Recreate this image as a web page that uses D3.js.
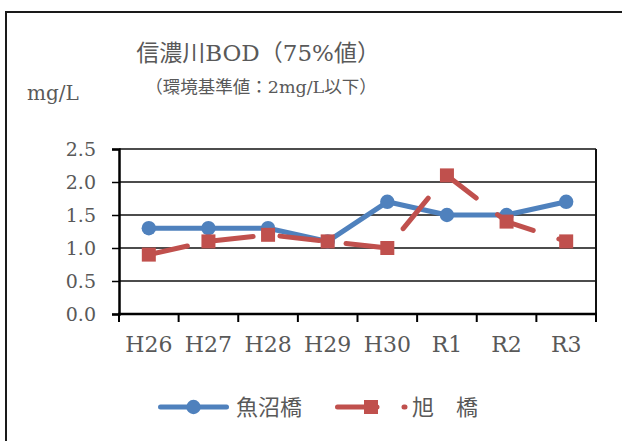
<!DOCTYPE html>
<html>
<head>
<meta charset="utf-8">
<script src="https://cdn.jsdelivr.net/npm/d3@7"></script>
<style>
  body { margin: 0; background: #fff; }
  svg { display: block; }
</style>
</head>
<body>
<div id="chart"></div>
<script>
/* 信濃川BOD line chart */

const years = ["H26", "H27", "H28", "H29", "H30", "R1", "R2", "R3"];
const uonuma = [1.3, 1.3, 1.3, 1.1, 1.7, 1.5, 1.5, 1.7];   // 魚沼橋
const asahi = [0.9, 1.1, 1.2, 1.1, 1.0, 2.1, 1.4, 1.1];    // 旭橋
const yTicks = [0, 0.5, 1.0, 1.5, 2.0, 2.5];
const seriesNames = ["魚沼橋", "旭　橋"];

const width = 622,
      height = 441,
      margin = ({ top: 149, right: 26, bottom: 127, left: 119 });

const grey = "#595959",
      blue = "#4f81bd",
      red = "#c0504d",
      serif = "'DejaVu Serif', serif",
      cjk = "'Noto Sans CJK JP', sans-serif";

let svg = d3.select("#chart")
    .append("svg")
    .attr("width", width)
    .attr("height", height);

// outer chart frame (runs off right and bottom)
svg.append("rect")
    .attr("x", 6)
    .attr("y", 12)
    .attr("width", 700)
    .attr("height", 500)
    .attr("fill", "none")
    .attr("stroke", "#1a1a1a")
    .attr("stroke-width", 2);

let x = d3.scaleBand()
    .domain(years)
    .range([margin.left, width - margin.right]);

let y = d3.scaleLinear()
    .domain([0, 2.5])
    .range([height - margin.bottom, margin.top]);

// horizontal grid lines
svg.append("g")
    .selectAll("line")
    .data(yTicks.slice(1))
    .join("line")
    .attr("x1", margin.left)
    .attr("x2", width - margin.right)
    .attr("y1", d => y(d))
    .attr("y2", d => y(d))
    .attr("stroke", "#111")
    .attr("stroke-width", 1.4);

// right border of plot
svg.append("line")
    .attr("x1", width - margin.right)
    .attr("x2", width - margin.right)
    .attr("y1", y(2.5))
    .attr("y2", y(0))
    .attr("stroke", "#111")
    .attr("stroke-width", 2);

// y axis
let yAxis = svg.append("g")
    .attr("transform", `translate(${margin.left},0)`)
    .call(d3.axisLeft(y).tickValues(yTicks).tickFormat(d3.format(".1f")).tickSize(7).tickPadding(16));
yAxis.select(".domain").attr("stroke", "#000").attr("stroke-width", 2.5);
yAxis.selectAll(".tick line").attr("stroke", "#000").attr("stroke-width", 1.5);
yAxis.selectAll("text")
    .attr("fill", grey)
    .style("font-family", serif)
    .style("font-size", "19px");

// x axis, ticks at band edges
let edges = years.map(d => x(d)).concat([x.range()[1]]);
let xAxis = svg.append("g")
    .attr("transform", `translate(0,${y(0)})`);
xAxis.append("line")
    .attr("x1", margin.left - 1)
    .attr("x2", width - margin.right + 1)
    .attr("stroke", "#000")
    .attr("stroke-width", 2.5);
xAxis.selectAll(".xt")
    .data(edges)
    .join("line")
    .attr("class", "xt")
    .attr("x1", d => d)
    .attr("x2", d => d)
    .attr("y1", 0)
    .attr("y2", 8)
    .attr("stroke", "#000")
    .attr("stroke-width", 2);
xAxis.selectAll("text")
    .data(years)
    .join("text")
    .attr("x", d => x(d) + x.bandwidth() / 2)
    .attr("y", 38)
    .attr("text-anchor", "middle")
    .attr("fill", grey)
    .style("font-family", serif)
    .style("font-size", "22px")
    .text(d => d);

let line = d3.line()
    .x((d, i) => x(years[i]) + x.bandwidth() / 2)
    .y(d => y(d));

// 魚沼橋
svg.append("path")
    .datum(uonuma)
    .attr("d", line)
    .attr("fill", "none")
    .attr("stroke", blue)
    .attr("stroke-width", 5)
    .attr("stroke-linejoin", "round")
    .attr("stroke-linecap", "round");

svg.append("g")
    .selectAll("circle")
    .data(uonuma)
    .join("circle")
    .attr("cx", (d, i) => x(years[i]) + x.bandwidth() / 2)
    .attr("cy", d => y(d))
    .attr("r", 7.2)
    .attr("fill", blue);

// 旭橋 (long dash)
svg.append("path")
    .datum(asahi)
    .attr("d", line)
    .attr("fill", "none")
    .attr("stroke", red)
    .attr("stroke-width", 5)
    .attr("stroke-dasharray", "39.5,27")
    .attr("stroke-linejoin", "round")
    .attr("stroke-linecap", "round");

svg.append("g")
    .selectAll("rect")
    .data(asahi)
    .join("rect")
    .attr("x", (d, i) => x(years[i]) + x.bandwidth() / 2 - 7)
    .attr("y", d => y(d) - 7)
    .attr("width", 14)
    .attr("height", 14)
    .attr("fill", red);

// titles: latin parts serif, kanji parts CJK font
function mixedText(parts, xPos, yPos, size) {
    let t = svg.append("text")
        .attr("x", xPos)
        .attr("y", yPos)
        .attr("text-anchor", "middle")
        .attr("fill", grey)
        .style("font-size", size);
    t.selectAll("tspan")
        .data(parts)
        .join("tspan")
        .style("font-family", d => /[A-Za-z0-9%/]/.test(d) ? serif : cjk)
        .text(d => d);
}

mixedText(["信濃川", "BOD", "（", "75%", "値）"], 258, 61, "23px");
mixedText(["（環境基準値：", "2mg/L", "以下）"], 261, 93, "17.5px");

svg.append("text")
    .attr("x", 27)
    .attr("y", 100)
    .attr("fill", grey)
    .style("font-family", serif)
    .style("font-size", "20px")
    .text("mg/L");

// legend
const legendY = 407;
let lg = svg.append("g");

lg.append("line")
    .attr("x1", 160.5).attr("x2", 226.5)
    .attr("y1", legendY).attr("y2", legendY)
    .attr("stroke", blue)
    .attr("stroke-width", 5)
    .attr("stroke-linecap", "round");
lg.append("circle")
    .attr("cx", 193.5).attr("cy", legendY)
    .attr("r", 7.2)
    .attr("fill", blue);
lg.append("text")
    .attr("x", 236).attr("y", legendY)
    .attr("dy", "0.36em")
    .attr("fill", grey)
    .style("font-family", cjk)
    .style("font-size", "22px")
    .text(seriesNames[0]);

lg.append("line")
    .attr("x1", 337.5).attr("x2", 405)
    .attr("y1", legendY).attr("y2", legendY)
    .attr("stroke", red)
    .attr("stroke-width", 5)
    .attr("stroke-dasharray", "39.5,27")
    .attr("stroke-linecap", "round");
lg.append("rect")
    .attr("x", 364).attr("y", legendY - 7)
    .attr("width", 14).attr("height", 14)
    .attr("fill", red);
lg.append("text")
    .attr("x", 412).attr("y", legendY)
    .attr("dy", "0.36em")
    .attr("fill", grey)
    .style("font-family", cjk)
    .style("font-size", "22px")
    .text(seriesNames[1]);
</script>
</body>
</html>
